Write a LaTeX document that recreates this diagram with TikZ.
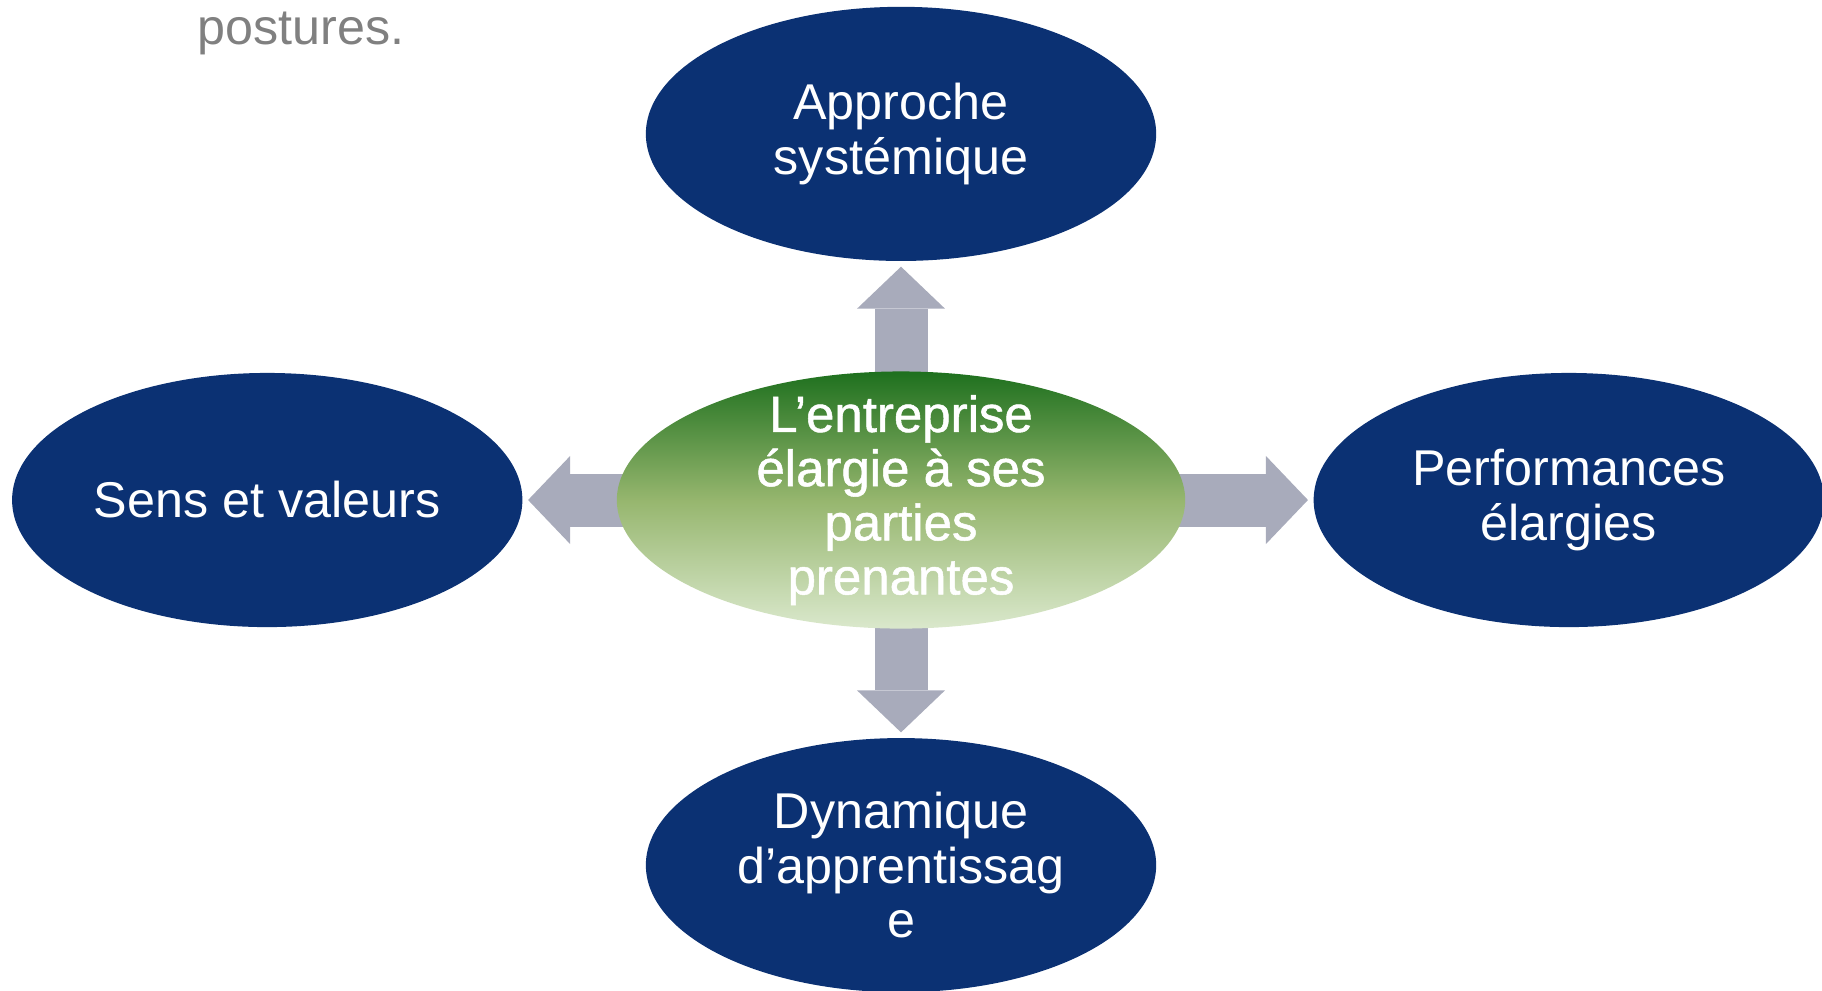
\documentclass[tikz,border=0pt]{standalone}
\usepackage{fontspec}
\setmainfont{Liberation Sans}
\newfontfamily\corefont[FakeBold=1]{Liberation Sans}
\usepackage{tikz}
\usetikzlibrary{arrows.meta,positioning,shapes.geometric,backgrounds}
\definecolor{navy}{RGB}{11,49,115}
\definecolor{ent top}{RGB}{30,112,30}
\definecolor{ent mid}{RGB}{150,182,110}
\definecolor{ent bot}{RGB}{218,232,204}
\definecolor{link}{RGB}{168,171,187}
\definecolor{note}{RGB}{128,128,128}
\tikzset{
  pole/.style={ellipse, fill=navy, text=white, align=center, inner sep=0pt,
    minimum width=5.1cm, minimum height=2.54cm, font=\fontsize{14.3}{15.5}\selectfont},
  core/.style={ellipse, top color=ent top, bottom color=ent bot, middle color=ent mid,
    text=white, align=center, inner xsep=0pt, inner ysep=-0.4cm,
    minimum width=5.68cm, minimum height=2.57cm, font=\corefont\fontsize{14.5}{15.4}\selectfont},
  push/.style={draw=link, line width=0.53cm, shorten >=0.05cm,
    -{Triangle[length=0.42cm, width=0.88cm, line width=0pt]}},
  note/.style={text=note, anchor=base west, inner sep=0pt, font=\fontsize{14.3}{16}\selectfont}
}

\begin{document}
\begin{tikzpicture}[x=0.01cm, y=-0.01cm]
    \useasboundingbox (0,0) rectangle (1822,990);

    \node[note] (post) at (197,44) {postures.};

    \node[core] (ent) at (901,500) {L’entreprise\\élargie à ses\\parties\\prenantes};
    \node[pole, above=1.09cm of ent] (sys) {Approche\\systémique};
    \node[pole, left=0.93cm of ent] (sens) {Sens et valeurs};
    \node[pole, right=1.27cm of ent] (perf) {Performances\\élargies};
    \node[pole, below=1.08cm of ent] (dyn) {Dynamique\\d’apprentissag\\e};

    % block arrows go under the centre ellipse
    \begin{scope}[on background layer]
      \draw[push] (ent.center) -- (sys.south);
      \draw[push] (ent.center) -- (sens.east);
      \draw[push] (ent.center) -- (perf.west);
      \draw[push] (ent.center) -- (dyn.north);
    \end{scope}
  \end{tikzpicture}
\end{document}
